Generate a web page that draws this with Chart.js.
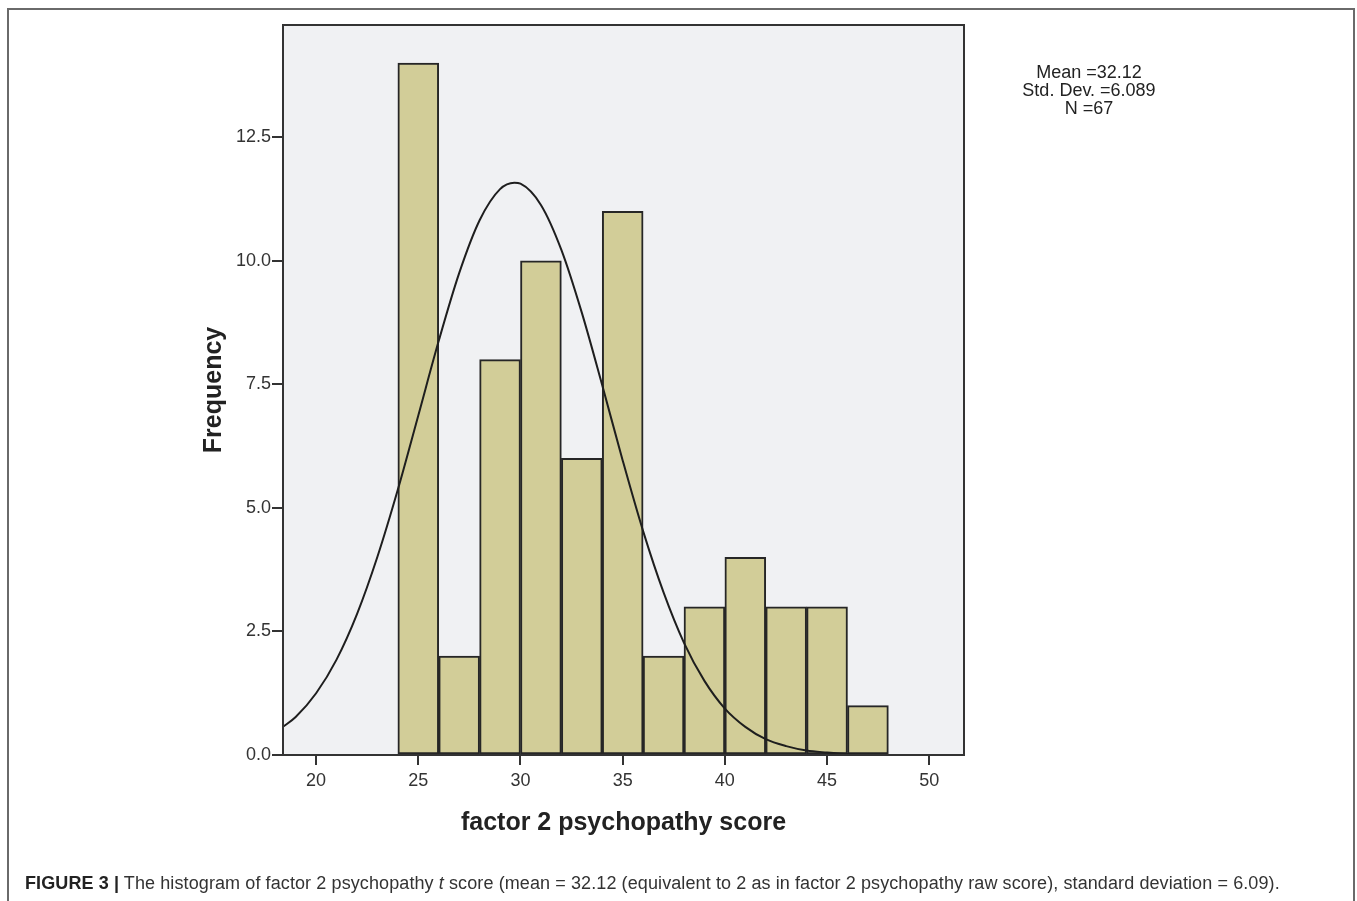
<!DOCTYPE html>
<html>
<head>
<meta charset="utf-8">
<script src="https://cdn.jsdelivr.net/npm/chart.js@4.4.1/dist/chart.umd.min.js"></script>
<style>
  html, body { margin: 0; padding: 0; background: #fff; width: 1357px; height: 901px; overflow: hidden; }
  #frame { position: absolute; left: 7px; top: 8px; width: 1348px; height: 960px; border: 2px solid #6a6a6a; box-sizing: border-box; }
  #wrap { position: absolute; left: 0; top: 0; width: 1357px; height: 901px; }
  #stats { position: absolute; left: 989px; top: 63px; width: 200px; text-align: center;
           font-family: "Liberation Sans", Arial, sans-serif; font-size: 18px; line-height: 18px; color: #222; }
  #caption { position: absolute; left: 25px; top: 873px; white-space: nowrap; letter-spacing: 0.1px;
             font-family: "Liberation Sans", Arial, sans-serif; font-size: 18px; line-height: 21px; color: #333; }
  #caption b { color: #222; }
</style>
</head>
<body>
<div id="frame"></div>
<div id="wrap"><canvas id="c" width="1357" height="901"></canvas></div>
<div id="stats">Mean =32.12<br>Std. Dev. =6.089<br>N =67</div>
<div id="caption"><b>FIGURE 3 |</b> The histogram of factor 2 psychopathy <i>t</i> score (mean = 32.12 (equivalent to 2 as in factor 2 psychopathy raw score), standard deviation = 6.09).</div>
<script>
// ---- data ----
const binCenters  = [25, 27, 29, 31, 33, 35, 37, 39, 41, 43, 45, 47];
const frequencies = [14, 2, 8, 10, 6, 11, 2, 3, 4, 3, 3, 1];
const curveX = [18.38, 19, 20, 21, 22, 23, 24, 25, 26, 27, 28, 29, 29.7, 30, 31, 32, 33, 34, 35, 36, 37, 38, 39, 40, 41, 42, 43, 44, 45, 46, 47, 48];
const curveY = [0.57, 0.77, 1.25, 1.93, 2.85, 4.01, 5.37, 6.87, 8.38, 9.75, 10.82, 11.45, 11.58, 11.56, 11.13, 10.22, 8.95, 7.48, 5.96, 4.53, 3.29, 2.27, 1.50, 0.94, 0.57, 0.32, 0.18, 0.09, 0.05, 0.02, 0.01, 0.00];
const yTicks = [0, 2.5, 5, 7.5, 10, 12.5];
const xTicks = [20, 25, 30, 35, 40, 45, 50];
const xMin = 18.38, xMax = 51.7, yMin = 0, yMax = 14.77;
const xTitle = 'factor 2 psychopathy score';
const yTitle = 'Frequency';

const barData = binCenters.map((x, i) => ({ x: x, y: frequencies[i] }));
const curveData = curveX.map((x, i) => ({ x: x, y: curveY[i] }));

const plotBox = {
  id: 'plotBox',
  beforeDatasetsDraw(chart) {
    const a = chart.chartArea, ctx = chart.ctx;
    ctx.save();
    ctx.fillStyle = '#F0F1F3';
    ctx.fillRect(a.left, a.top, a.right - a.left, a.bottom - a.top);
    ctx.restore();
  },
  afterDraw(chart) {
    const a = chart.chartArea, ctx = chart.ctx;
    ctx.save();
    ctx.strokeStyle = '#333';
    ctx.lineWidth = 2;
    ctx.strokeRect(a.left, a.top, a.right - a.left, a.bottom - a.top);
    ctx.restore();
  }
};

const tickFont = { family: '"Liberation Sans", Arial, sans-serif', size: 18 };
const titleFont = { family: '"Liberation Sans", Arial, sans-serif', size: 25, weight: 'bold', lineHeight: 1.2 };

new Chart(document.getElementById('c'), {
  data: {
    datasets: [
      {
        type: 'line',
        data: curveData,
        borderColor: '#1e1e1e',
        borderWidth: 2,
        pointRadius: 0,
        cubicInterpolationMode: 'monotone',
        fill: false,
        order: 0
      },
      {
        type: 'bar',
        data: barData,
        backgroundColor: '#D2CD98',
        borderColor: '#262626',
        borderWidth: 2,
        borderSkipped: false,
        barPercentage: 1.0,
        categoryPercentage: 1.0,
        order: 1
      }
    ]
  },
  plugins: [plotBox],
  options: {
    responsive: false,
    animation: false,
    events: [],
    layout: { padding: { left: 0, top: 25, right: 393, bottom: 0 } },
    plugins: { legend: { display: false }, tooltip: { enabled: false } },
    scales: {
      x: {
        type: 'linear',
        offset: false,
        min: xMin, max: xMax,
        afterBuildTicks(s) { s.ticks = xTicks.map(v => ({ value: v })); },
        afterFit(s) { s.height = 146; },
        grid: { offset: false, drawOnChartArea: false, drawTicks: true, tickLength: 10, tickColor: '#333', lineWidth: 2 },
        border: { display: true, color: '#333', width: 2 },
        ticks: { color: '#333', font: tickFont, padding: 5, maxRotation: 0, autoSkip: false },
        title: { display: true, text: xTitle, color: '#222', font: titleFont, padding: { top: 0, bottom: 63 } }
      },
      y: {
        type: 'linear',
        min: yMin, max: yMax,
        afterBuildTicks(s) { s.ticks = yTicks.map(v => ({ value: v })); },
        afterFit(s) { s.width = 283; },
        grid: { drawOnChartArea: false, drawTicks: true, tickLength: 11, tickColor: '#333', lineWidth: 2 },
        border: { display: true, color: '#333', width: 2 },
        ticks: { color: '#333', font: tickFont, padding: 1, callback: v => v.toFixed(1), autoSkip: false },
        title: { display: true, text: yTitle, color: '#222', font: titleFont, padding: { top: 199, bottom: 0 } }
      }
    }
  }
});
</script>
</body>
</html>
